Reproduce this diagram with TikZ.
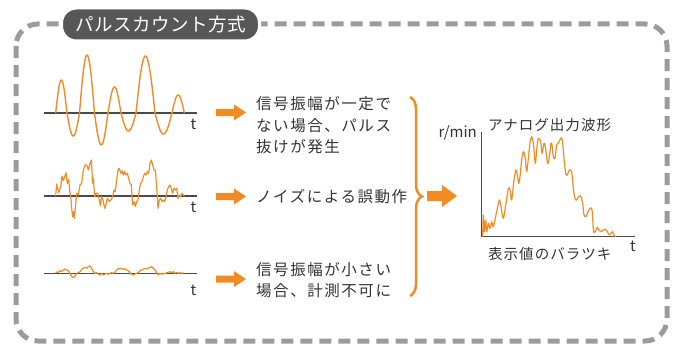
\documentclass[tikz,border=0pt]{standalone}
\usepackage{fontspec}
\setmainfont{Noto Sans CJK JP}
\newfontfamily\jpsp[LetterSpace=10]{Noto Sans CJK JP}
\newfontfamily\jpti[LetterSpace=3]{Noto Sans CJK JP}
\newfontfamily\jpgr[LetterSpace=7]{Noto Sans CJK JP}
\usetikzlibrary{decorations.pathreplacing}
\definecolor{ora}{HTML}{F38B25}
\definecolor{framegray}{HTML}{9B9B9B}
\definecolor{titlegray}{HTML}{575757}
\definecolor{txtc}{HTML}{333333}
\definecolor{axisc}{HTML}{4A4A4A}
\tikzset{
  frame/.style={draw=framegray, line width=5pt, dash pattern=on 12pt off 7pt, rounded corners=22pt},
  titlebox/.style={fill=titlegray, draw=white, line width=3pt, rounded corners=15pt, minimum width=198pt, minimum height=33pt, inner sep=0pt, text=white, font=\jpti\fontsize{18.5}{20}\selectfont},
  txt/.style={anchor=west, inner sep=0pt, align=left, text=txtc, font=\jpsp\fontsize{15.5}{21.5}\selectfont},
  grlabel/.style={inner sep=0pt, text=txtc, font=\jpgr\fontsize{14.5}{16}\selectfont},
  tlabel/.style={inner sep=0pt, text=txtc, font=\fontsize{15}{16}\selectfont},
  axisline/.style={draw=axisc, line width=1.3pt},
  wave/.style={draw=ora, line width=1.4pt, line join=round},
  thinwave/.style={draw=ora, line width=1.2pt, line join=round},
  bracestyle/.style={draw=ora, line width=2.5pt, decorate, decoration={brace, amplitude=12pt}},
  smallarrow/.pic={\fill[ora] (0,-3.5) -- (18,-3.5) -- (18,-8) -- (30,0) -- (18,8) -- (18,3.5) -- (0,3.5) -- cycle;},
  bigarrow/.pic={\fill[ora] (0,-5) -- (15,-5) -- (15,-11) -- (30,0) -- (15,11) -- (15,5) -- (0,5) -- cycle;}
}
\begin{document}
\begin{tikzpicture}[x=1pt,y=-1pt]
\useasboundingbox (0,0) rectangle (679,345);
% frame
\draw[frame] (16,24) rectangle (667,341);
\node[titlebox] (title) at (160.5,24.5) {パルスカウント方式};

% ---- wave 1
\coordinate (ax1a) at (44,113);
\coordinate (ax1b) at (197,113);
\draw[axisline] (ax1a) -- (ax1b);
\node[tlabel] (t1) at (193.5,124) {t};
\foreach \xa/\xb/\amp in {55.7/67/33, 67/79.5/-23, 79.5/94.5/58, 94.5/108/-32, 108/121/26, 121/136/-18, 136/155/57, 155/172/-21, 172/184.3/18}{
  \draw[wave] plot[domain=0:180, samples=25, smooth] ({\xa+(\xb-\xa)*\x/180}, {113-\amp*sin(\x)});
}

% ---- wave 2
\coordinate (ax2a) at (44,196);
\coordinate (ax2b) at (197,196);
\draw[axisline] (ax2a) -- (ax2b);
\node[tlabel] (t2) at (193.5,207) {t};
\begin{scope}[shift={(30,150)}, scale=1/3]
\draw[thinwave] plot coordinates {
(77,138) (80,102) (86,128) (92,110) (96,78) (100,92) (104,80) (108,68) (112,100) (116,88)
(120,130) (122,135) (125,175) (128,200) (131,185) (133,205) (136,175) (140,130) (145,135)
(150,105) (155,100) (160,60) (165,45) (170,45) (175,60) (180,40) (184,30) (188,100) (190,85)
(194,140) (198,130) (203,130) (207,145) (211,168) (215,140) (219,150) (224,175) (228,165)
(232,145) (238,155) (244,148) (248,140) (252,120) (256,125) (260,90) (264,60) (268,55)
(272,70) (276,62) (280,75) (284,65) (288,75) (292,70) (296,85) (300,100) (304,105) (308,165)
(312,155) (316,170) (320,155) (324,150) (328,120) (332,100) (336,95) (340,80) (344,70)
(348,75) (352,65) (356,70) (360,40) (364,30) (368,45) (372,60) (376,60) (380,110) (384,175)
(388,150) (392,145) (396,155) (400,150) (404,155) (408,140) (412,120) (416,110) (420,105)
(424,115) (428,130) (432,115) (436,120) (440,115) (444,145) (448,135) (452,140) (456,130)
(460,135) (463,138)};
\end{scope}

% ---- wave 3
\coordinate (ax3a) at (44,273.3);
\coordinate (ax3b) at (197,273.3);
\draw[axisline] (ax3a) -- (ax3b);
\node[tlabel] (t3) at (193.5,290) {t};
\begin{scope}[shift={(30,240)}, scale=1/3]
\draw[thinwave] plot coordinates {
(77,100) (80,96) (85,97) (90,92) (95,95) (100,90) (105,87) (110,90) (115,92) (120,100)
(125,110) (130,113) (135,108) (140,100) (145,98) (150,95) (155,88) (160,85) (165,82)
(170,85) (175,80) (180,78) (185,85) (190,95) (195,100) (200,98) (205,102) (210,105)
(215,100) (220,105) (225,102) (230,100) (235,103) (240,100) (245,98) (250,100) (255,96)
(260,90) (265,85) (270,87) (275,85) (280,88) (285,86) (290,90) (295,92) (300,98) (305,103)
(310,105) (315,102) (320,100) (325,97) (330,92) (335,90) (340,88) (345,85) (350,87)
(355,84) (360,82) (365,80) (370,85) (375,90) (380,98) (385,105) (390,100) (395,103)
(400,100) (405,102) (410,98) (415,97) (420,95) (425,98) (430,95) (435,100) (440,97)
(445,100) (450,98) (455,100) (460,98)};
\end{scope}

% ---- arrows and texts
\pic (ar1) at (216,112.5) {smallarrow};
\pic (ar2) at (216,196.5) {smallarrow};
\pic (ar3) at (216,279) {smallarrow};
\node[txt] (m1) at (256,125.5) {信号振幅が一定で\\ない場合、パルス\\抜けが発生};
\node[txt] (m2) at (256,196.5) {ノイズによる誤動作};
\node[txt] (m3) at (256,280) {信号振幅が小さい\\場合、計測不可に};

% ---- brace and big arrow
\coordinate (brtop) at (410,97);
\coordinate (brbot) at (410,296);
\draw[bracestyle] (brtop) -- (brbot);
\pic (ar4) at (427,196) {bigarrow};

% ---- analog graph
\coordinate (gorig) at (481.7,236.7);
\coordinate (gytop) at (481.7,131.7);
\coordinate (gxend) at (635,236.7);
\draw[axisline] (gytop) -- (gorig) -- (gxend);
\node[tlabel, anchor=east] (rmin) at (477,133) {r/min};
\node[grlabel, anchor=west] (gtitle) at (488,125) {アナログ出力波形};
\node[tlabel] (gt) at (633,246.5) {t};
\node[grlabel, anchor=west] (gbottom) at (488,254) {表示値のバラツキ};
\begin{scope}[shift={(420,100)}, scale=1/3]
\draw[thinwave] plot[smooth, tension=0.5] coordinates {
(188,410) (190,345) (193,395) (197,360) (200,395) (205,370) (210,385) (215,365) (220,380)
(230,335) (238,300) (243,320) (250,355) (258,310) (265,265) (270,270) (275,300) (282,240)
(288,210) (292,225) (296,250) (300,230) (305,180) (310,155) (315,170) (320,215) (325,175)
(330,130) (335,110) (340,130) (346,190) (350,150) (355,115) (362,125) (366,160) (372,130)
(376,140) (383,190) (388,170) (393,130) (396,135) (400,170) (405,175) (410,135) (415,130)
(422,115) (427,120) (432,175) (438,225) (444,220) (448,210) (455,215) (460,265) (465,295)
(470,300) (476,290) (482,288) (488,310) (492,345) (498,350) (504,335) (510,325) (516,330)
(521,395) (528,390) (532,382) (538,392) (545,395) (550,390) (556,388) (562,395) (568,405)
(573,400) (578,395) (582,405) (586,410)};
\end{scope}
\end{tikzpicture}
\end{document}
